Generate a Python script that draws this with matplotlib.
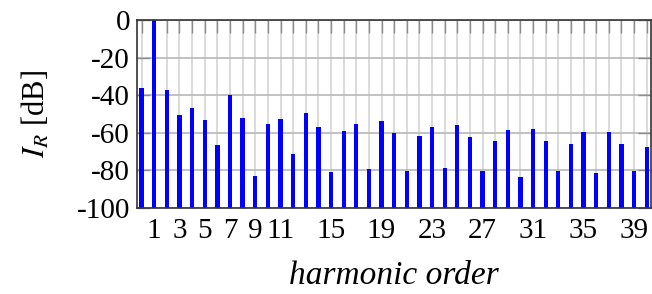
import matplotlib.pyplot as plt

# harmonic spectrum (dB)
order = list(range(0, 41))
level = [-36.3, 0.0, -37.2, -50.6, -46.9, -53.1, -66.5, -39.8, -52.0, -82.8,
         -55.4, -52.7, -71.3, -49.6, -57.0, -80.7, -59.1, -55.4, -79.3, -53.5,
         -60.0, -80.5, -61.8, -57.0, -78.6, -56.1, -62.5, -80.5, -64.2, -58.6,
         -83.5, -57.9, -64.2, -80.4, -65.8, -59.5, -81.4, -59.5, -66.0, -80.2,
         -67.6]
labelled = [1, 3, 5, 7, 9, 11, 15, 19, 23, 27, 31, 35, 39]
yticks = [0, -20, -40, -60, -80, -100]

plt.rcParams['font.family'] = ['Liberation Serif', 'DejaVu Serif']
plt.rcParams['mathtext.fontset'] = 'stix'

fig = plt.figure(figsize=(6.52, 2.94), dpi=100)
ax = fig.add_axes([0.210, 0.293, 0.7885, 0.639])

ax.bar(order, [l - (-100) for l in level], bottom=-100, width=0.34,
       color='#0000ff', zorder=3)

ax.set_xlim(-0.37, 40.34)
ax.set_ylim(-100, 0)

ax.set_xticks(order)
ax.set_xticklabels([str(o) if o in labelled else '' for o in order])
ax.set_yticks(yticks)
ax.set_yticklabels([str(t) for t in yticks])

ax.grid(True, axis='x', color='#d4d4d4', linewidth=1.2, zorder=0)
ax.grid(True, axis='y', color='#b8b8b8', linewidth=1.2, zorder=0)
ax.set_axisbelow(True)

ax.tick_params(axis='both', direction='in', length=9.5, width=1.0,
               color='#8c8c8c', labelsize=21, top=True, right=True)
ax.tick_params(axis='x', pad=7)
ax.tick_params(axis='y', pad=5)

for s in ax.spines.values():
    s.set_linewidth(1.2)
    s.set_color('#333333')
    s.set_zorder(4)

ax.set_xlabel('harmonic order', fontsize=24, style='italic', labelpad=12)
ax.set_ylabel(r'$I_R$ [dB]', fontsize=22, labelpad=18)

plt.savefig('out.png', dpi=100)
plt.close()
